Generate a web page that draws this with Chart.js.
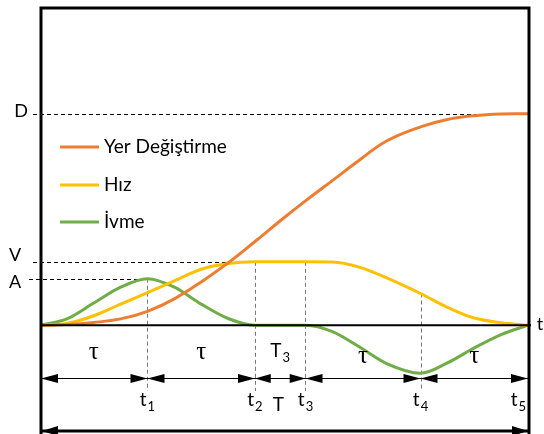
<!DOCTYPE html>
<html>
<head>
<meta charset="utf-8">
<script src="https://cdn.jsdelivr.net/npm/chart.js@4/dist/chart.umd.min.js"></script>
<style>
  html, body { margin: 0; padding: 0; background: #fff; }
  #wrap { width: 544px; height: 434px; position: relative; }
</style>
</head>
<body>
<div id="wrap"><canvas id="c"></canvas></div>
<script>
// Time instants of the motion profile (in units of τ): 0, t1 ... t5
const markTimes = [0, 1, 2, 2.47, 3.54, 4.54];
const markNames = ['', 't1', 't2', 't3', 't4', 't5'];
// Durations written between consecutive instants
const spanNames = ['τ', 'τ', 'T3', 'τ', 'τ'];

// Reference levels
const levelD = 100;
const levelV = 30;
const levelA = 22;

// Sampled profiles
const sampleTimes  = [0, 0.25, 0.5, 0.75, 1, 1.25, 1.5, 1.75, 2, 2.25, 2.47, 2.72, 2.97, 3.22, 3.54, 3.79, 4.04, 4.29, 4.54];
const displacement = [0, 0.3, 1.3, 3.0, 6.6, 12.5, 20.5, 29.5, 39.6, 50, 58.8, 68.4, 78, 87, 93.8, 97.3, 99.1, 99.9, 100];
const velocity     = [0, 0.8, 4.5, 10, 15.4, 21, 26.5, 29.2, 30, 30, 30, 29.9, 27.5, 22.5, 15, 8.5, 3.4, 1.2, 0];
const acceleration = [0, 3, 10.5, 18, 22, 18, 10, 3.2, 0, 0, 0, -3, -10.2, -18, -22.7, -17.8, -10.7, -4.4, 0];

const seriesNames = ['Yer Değiştirme', 'Hız', 'İvme'];
const seriesColors = ['#ED7D31', '#FFC000', '#70AD47'];

const pts = vals => sampleTimes.map((t, i) => ({ x: t, y: vals[i] }));

const FONT = 'Lato, "Liberation Sans", sans-serif';

function arrowHead(ctx, tipX, y, dir, len, half) {
  ctx.beginPath();
  ctx.moveTo(tipX, y);
  ctx.lineTo(tipX - dir * len, y - half);
  ctx.lineTo(tipX - dir * len, y + half);
  ctx.closePath();
  ctx.fill();
}

// base letter with an optional subscript, centred on cx
function subLabel(ctx, text, cx, y, size, maxRight) {
  const base = text.charAt(0);
  const sub = text.slice(1);
  const subSize = Math.round(size * 0.7);
  ctx.font = size + 'px ' + FONT;
  const wb = ctx.measureText(base).width;
  ctx.font = subSize + 'px ' + FONT;
  const ws = sub ? ctx.measureText(sub).width + 1 : 0;
  let left = cx - (wb + ws) / 2;
  if (maxRight !== undefined && left + wb + ws > maxRight) left = maxRight - wb - ws;
  ctx.textAlign = 'left';
  ctx.textBaseline = 'alphabetic';
  ctx.font = size + 'px ' + FONT;
  ctx.fillText(base, left, y);
  if (sub) {
    ctx.font = subSize + 'px ' + FONT;
    ctx.fillText(sub, left + wb + 1, y + 5);
  }
}

const diagram = {
  id: 'diagram',
  beforeDatasetsDraw(chart) {
    const { ctx, scales: { x, y } } = chart;
    ctx.save();
    ctx.lineWidth = 1;
    ctx.setLineDash([4, 3]);
    // horizontal level guides
    ctx.strokeStyle = '#000';
    const hGuides = [
      [levelD, 33, x.getPixelForValue(4.35)],
      [levelV, 33, x.getPixelForValue(markTimes[2])],
      [levelA, 29, x.getPixelForValue(markTimes[1])]
    ];
    hGuides.forEach(([v, x0, x1]) => {
      const py = Math.round(y.getPixelForValue(v)) + 0.5;
      ctx.beginPath(); ctx.moveTo(x0, py); ctx.lineTo(x1, py); ctx.stroke();
    });
    // vertical instant guides
    ctx.strokeStyle = '#777';
    const vTop = [levelA, levelV, levelV, velocity[sampleTimes.indexOf(markTimes[4])]];
    for (let i = 1; i <= 4; i++) {
      const px = Math.round(x.getPixelForValue(markTimes[i])) + 0.5;
      ctx.beginPath();
      ctx.moveTo(px, y.getPixelForValue(vTop[i - 1]));
      ctx.lineTo(px, 391);
      ctx.stroke();
    }
    ctx.restore();
  },
  afterDatasetsDraw(chart) {
    const { ctx, scales: { x, y } } = chart;
    ctx.save();
    ctx.setLineDash([]);
    ctx.strokeStyle = '#000';
    ctx.fillStyle = '#000';

    // frame
    ctx.lineWidth = 3;
    ctx.beginPath();
    ctx.moveTo(41, 434); ctx.lineTo(41, 8); ctx.lineTo(529, 8); ctx.lineTo(529, 434);
    ctx.stroke();

    // time axis
    const y0 = y.getPixelForValue(0);
    ctx.lineWidth = 2;
    ctx.beginPath(); ctx.moveTo(40, y0); ctx.lineTo(531, y0); ctx.stroke();

    // interval arrows
    const ay = 378.5;
    ctx.lineWidth = 1;
    ctx.beginPath(); ctx.moveTo(40, ay); ctx.lineTo(528, ay); ctx.stroke();
    for (let i = 0; i < markTimes.length - 1; i++) {
      const a = x.getPixelForValue(markTimes[i]);
      const b = x.getPixelForValue(markTimes[i + 1]);
      const len = Math.min(17, (b - a) / 3.2);
      arrowHead(ctx, a + (i === 0 ? 1 : 0), ay, -1, len, 4.5);
      arrowHead(ctx, b, ay, 1, len, 4.5);
    }

    // total duration arrow
    const by = 431;
    ctx.lineWidth = 3;
    ctx.beginPath(); ctx.moveTo(42, by); ctx.lineTo(528, by); ctx.stroke();
    arrowHead(ctx, 42, by, -1, 16, 5);
    arrowHead(ctx, 528, by, 1, 16, 5);

    // level labels
    ctx.font = '18px ' + FONT;
    ctx.textAlign = 'center';
    ctx.textBaseline = 'middle';
    ctx.fillText('D', 21, y.getPixelForValue(levelD) - 3);
    ctx.fillText('V', 15, y.getPixelForValue(levelV) - 7);
    ctx.fillText('A', 15, y.getPixelForValue(levelA) + 3);
    ctx.fillText('t', 540, y0 - 1);

    // span labels
    for (let i = 0; i < spanNames.length; i++) {
      const a = x.getPixelForValue(markTimes[i]);
      const b = x.getPixelForValue(markTimes[i + 1]);
      const mid = (a + b) / 2;
      const name = spanNames[i];
      if (name === 'τ') {
        ctx.font = '25px "Liberation Serif", serif';
        ctx.textAlign = 'center';
        ctx.textBaseline = 'alphabetic';
        ctx.fillText('τ', mid, i < 2 ? 359 : 363);
      } else {
        subLabel(ctx, name, mid, 357, 19);
      }
    }

    // instant labels
    for (let i = 1; i < markTimes.length; i++) {
      const px = x.getPixelForValue(markTimes[i]);
      subLabel(ctx, markNames[i], px, 406, 19, 526);
    }
    // constant-speed duration
    const tm = (x.getPixelForValue(markTimes[2]) + x.getPixelForValue(markTimes[3])) / 2;
    ctx.font = '19px ' + FONT;
    ctx.textAlign = 'center';
    ctx.textBaseline = 'alphabetic';
    ctx.fillText('T', tm - 2, 411);

    // legend
    const legendY = [147, 185, 222];
    seriesNames.forEach((n, i) => {
      ctx.strokeStyle = seriesColors[i];
      ctx.lineWidth = 3;
      ctx.beginPath(); ctx.moveTo(60, legendY[i]); ctx.lineTo(99, legendY[i]); ctx.stroke();
      ctx.fillStyle = '#000';
      ctx.font = '19px ' + FONT;
      ctx.textAlign = 'left';
      ctx.textBaseline = 'middle';
      ctx.fillText(n, 104, legendY[i]);
    });
    ctx.restore();
  }
};

new Chart(document.getElementById('c'), {
  type: 'line',
  data: {
    datasets: [
      { label: seriesNames[0], data: pts(displacement), borderColor: seriesColors[0], tension: 0.4 },
      { label: seriesNames[1], data: pts(velocity), borderColor: seriesColors[1], cubicInterpolationMode: 'monotone' },
      { label: seriesNames[2], data: pts(acceleration), borderColor: seriesColors[2], cubicInterpolationMode: 'monotone' }
    ]
  },
  options: {
    responsive: true,
    maintainAspectRatio: false,
    animation: false,
    layout: { padding: { left: 40, right: 16, top: 8, bottom: 3 } },
    elements: {
      line: { borderWidth: 3, fill: false },
      point: { radius: 0 }
    },
    scales: {
      x: { type: 'linear', min: 0, max: markTimes[markTimes.length - 1], display: false },
      y: { type: 'linear', min: -50, max: 150, display: false }
    },
    plugins: { legend: { display: false }, tooltip: { enabled: false } }
  },
  plugins: [diagram]
});
</script>
</body>
</html>
